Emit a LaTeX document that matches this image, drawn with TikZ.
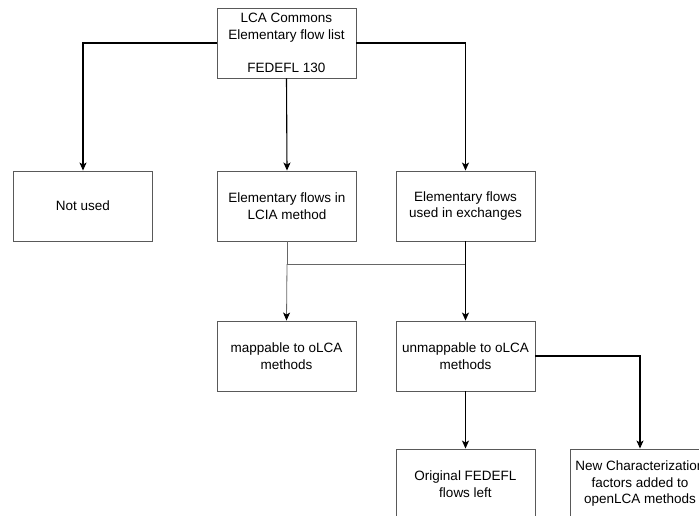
\documentclass[tikz,border=0pt]{standalone}
\usepackage{fontspec}
\setmainfont{Liberation Sans}
\usetikzlibrary{arrows.meta}

\begin{document}
\begin{tikzpicture}[x=1pt, y=-1pt,
    box/.style={draw=black!65, line width=0.9pt, rectangle,
                minimum width=139pt, minimum height=70pt,
                align=center, inner sep=2pt,
                font=\fontsize{13.5pt}{16.5pt}\selectfont},
    boldline/.style={draw=black, line width=1.1pt},
    thinline/.style={draw=black!60, line width=0.8pt},
    tip/.style={-{Stealth[length=8pt, width=7pt, inset=2pt, black]}}]

    \useasboundingbox (0,0) rectangle (699,515);

    \node[box] (list) at (286.5, 43)
        {LCA Commons\\Elementary flow list\\[16.5pt]FEDEFL 130};

    \node[box] (unused) at (83, 206) {Not used};
    \node[box] (lcia) at (287, 206) {Elementary flows in\\LCIA method};
    \node[box] (exch) at (465.5, 206) {Elementary flows\\used in exchanges};

    \node[box] (mapp) at (286.5, 356) {mappable to oLCA\\methods};
    \node[box] (unmapp) at (465.5, 356) {unmappable to oLCA\\methods};

    \node[box] (orig) at (465.5, 484) {Original FEDEFL\\flows left};
    \node[box] (newcf) at (640, 484)
        {New Characterization\\factors added to\\openLCA methods};

    % split of the flow list
    \draw[boldline, tip] (list.west) -| (unused.north);
    \draw[boldline, tip] (list.south) -- (lcia.north);
    \draw[boldline, tip] (list.east) -| (exch.north);

    % junction below the two flow boxes
    \coordinate (jl) at (287, 264);
    \coordinate (jr) at (exch.south |- jl);
    \draw[thinline] (lcia.south) -- (jl);
    \draw[thinline] (jl) -- (jr);
    \draw[thinline, tip] (jl) -- (mapp.north);
    \draw[boldline, tip] (exch.south) -- (unmapp.north);

    % unmappable flows
    \draw[boldline, tip] (unmapp.south) -- (orig.north);
    \draw[boldline, tip] (unmapp.east) -| (newcf.north);

\end{tikzpicture}
\end{document}
